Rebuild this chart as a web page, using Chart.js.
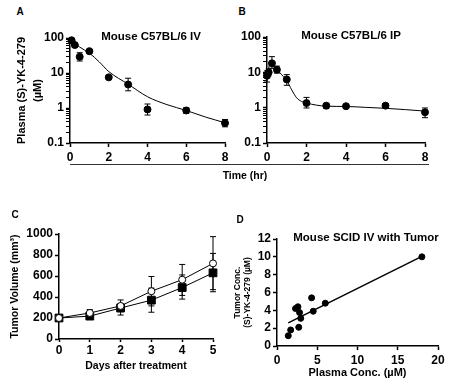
<!DOCTYPE html>
<html>
<head>
<meta charset="utf-8">
<script src="https://cdn.jsdelivr.net/npm/chart.js@4"></script>
<style>
body { margin: 0; background: #fff; width: 450px; height: 383px; position: relative; overflow: hidden;
       font-family: "Liberation Sans", Arial, sans-serif; font-weight: bold; color: #000; }
canvas { position: absolute; }
.t { position: absolute; transform: translate(-50%, -50%); white-space: nowrap; font-size: 11.5px; line-height: 1; }
.p { position: absolute; transform: translate(-50%, -50%); font-size: 10px; line-height: 1; }
.rule { position: absolute; left: 70px; top: 164px; width: 359px; border-top: 1px solid #333; }
</style>
</head>
<body>
<canvas id="cA" width="235" height="150" style="left:0;top:20px"></canvas>
<canvas id="cB" width="215" height="150" style="left:235px;top:20px"></canvas>
<canvas id="cC" width="235" height="168" style="left:0;top:215px"></canvas>
<canvas id="cD" width="220" height="168" style="left:230px;top:215px"></canvas>

<div class="p" style="left:20px;top:12px">A</div>
<div class="p" style="left:242px;top:12px">B</div>
<div class="p" style="left:15px;top:215px">C</div>
<div class="p" style="left:240px;top:220px">D</div>

<div class="t" style="left:151px;top:37px">Mouse C57BL/6 IV</div>
<div class="t" style="left:351px;top:36px">Mouse C57BL/6 IP</div>
<div class="t" style="left:366px;top:238px">Mouse SCID IV with Tumor</div>

<div class="rule"></div>
<div class="t" style="left:245px;top:175px;font-size:10.5px">Time (hr)</div>

<script>
const FONT = '"Liberation Sans", Arial, sans-serif';

// A: plasma conc after IV dose (µM)
const ivTime = [0.083, 0.25, 0.5, 1, 2, 3, 4, 6, 8];
const ivConc = [86, 63, 29, 42, 7.5, 4.7, 0.91, 0.85, 0.37];
const ivLow  = [78, 55, 22, 37, 6.8, 3.1, 0.63, 0.7, 0.29];
const ivHigh = [95, 72, 38, 47, 8.3, 7.1, 1.3, 1.02, 0.47];
const ivFitTime = [0, 0.5, 1, 1.5, 2, 3, 4, 5, 6, 7, 8];
const ivFitConc = [92, 55, 37, 21, 11, 4.8, 2.1, 1.25, 0.85, 0.55, 0.38];

// B: plasma conc after IP dose (µM)
const ipTime = [0, 0.083, 0.25, 0.5, 1, 2, 3, 4, 6, 8];
const ipConc = [8, 10, 18, 11.9, 6.3, 1.35, 1.14, 1.1, 1.14, 0.74];
const ipLow  = [5.3, 8, 13, 9.5, 4.3, 0.98, 0.94, 1.0, 1.0, 0.52];
const ipHigh = [11, 12.5, 27.8, 15, 8.6, 1.95, 1.32, 1.2, 1.3, 0.98];
const ipFitTime = [0, 0.15, 0.3, 0.5, 0.75, 1, 1.25, 1.5, 1.75, 2, 2.5, 3, 4, 5, 6, 7, 8];
const ipFitConc = [7.5, 17, 15.5, 12, 8.5, 5.8, 3.2, 1.9, 1.5, 1.35, 1.18, 1.1, 1.08, 1.02, 0.96, 0.88, 0.8];

const pkTimeTicks = [0, 2, 4, 6, 8];
const pkConcTicks = [0.1, 1, 10, 100];
const minorSteps = [2, 3, 4, 5, 6, 7, 8, 9];

// C: tumor volume (mm3)
const days = [0, 1, 2, 3, 4, 5];
const volCtrl     = [200, 248, 315, 455, 565, 720];
const volCtrlLow  = [195, 215, 260, 315, 415, 470];
const volCtrlHigh = [205, 280, 372, 595, 710, 975];
const volTrt      = [200, 218, 295, 370, 490, 630];
const volTrtLow   = [195, 192, 228, 255, 380, 450];
const volTrtHigh  = [205, 245, 335, 485, 610, 815];
const dayTicks = [0, 1, 2, 3, 4, 5];
const volTicks = [0, 200, 400, 600, 800, 1000];

// D: tumor vs plasma conc
const plasmaConc = [1.4, 1.7, 2.3, 2.6, 2.7, 2.8, 2.95, 4.3, 4.5, 6.0, 18.0];
const tumorConc  = [1.15, 1.8, 4.2, 4.4, 2.1, 3.75, 3.1, 5.4, 3.9, 4.8, 10.0];
const fitPlasma = [1.4, 18];
const fitTumor  = [2.6, 10.05];
const plasmaTicks = [0, 5, 10, 15, 20];
const tumorTicks = [0, 2, 4, 6, 8, 10, 12];

const tickFont = { family: FONT, size: 12, weight: 'bold' };
const xy = (xs, ys) => xs.map((x, i) => ({ x: x, y: ys[i] }));

// vertical error bars with caps, drawn under the markers
const errorBars = {
  id: 'errorBars',
  beforeDatasetsDraw(chart) {
    const ctx = chart.ctx, xs = chart.scales.x, ys = chart.scales.y;
    ctx.save();
    ctx.strokeStyle = '#000';
    ctx.lineWidth = 1;
    chart.data.datasets.forEach(ds => {
      if (!ds.errLow) return;
      ds.data.forEach((p, j) => {
        const x = xs.getPixelForValue(p.x);
        const lo = ys.getPixelForValue(ds.errLow[j]);
        const hi = ys.getPixelForValue(ds.errHigh[j]);
        ctx.beginPath();
        ctx.moveTo(x, lo); ctx.lineTo(x, hi);
        ctx.moveTo(x - 3, lo); ctx.lineTo(x + 3, lo);
        ctx.moveTo(x - 3, hi); ctx.lineTo(x + 3, hi);
        ctx.stroke();
      });
    });
    ctx.restore();
  }
};

function axis(min, max, tickVals, fit, title, tl, pad) {
  return {
    type: 'linear', min: min, max: max,
    border: { color: '#000', width: 1.5 },
    grid: { drawOnChartArea: false, color: '#000', tickLength: tl || 4, tickWidth: 1.5 },
    ticks: { color: '#000', font: tickFont, padding: pad == null ? 2 : pad, autoSkip: false, maxRotation: 0,
             callback: v => String(v) },
    afterBuildTicks: s => { s.ticks = tickVals.map(v => ({ value: v })); },
    afterFit: fit,
    title: title || { display: false }
  };
}

// log axis: labelled decades plus unlabelled 2..9 minor ticks
function logAxis(fit, title) {
  const all = [];
  pkConcTicks.forEach((d, i) => {
    all.push(d);
    if (i < pkConcTicks.length - 1) minorSteps.forEach(k => all.push(+(k * d).toPrecision(3)));
  });
  return {
    type: 'logarithmic', min: 0.1, max: 100,
    border: { color: '#000', width: 1.5 },
    grid: { drawOnChartArea: false, color: '#000', tickLength: 4,
            tickWidth: c => pkConcTicks.includes(c.tick.value) ? 1.5 : 1 },
    ticks: {
      color: '#000', font: tickFont, padding: 2, autoSkip: false,
      callback: v => pkConcTicks.includes(v) ? String(v) : ''
    },
    afterBuildTicks: s => { s.ticks = all.map(v => ({ value: v })); },
    afterFit: fit,
    title: title || { display: false }
  };
}

function baseOptions(padding, scales) {
  return {
    responsive: false, animation: false,
    layout: { padding: padding },
    plugins: { legend: { display: false }, tooltip: { enabled: false } },
    scales: scales
  };
}

function pkChart(id, time, conc, low, high, fitT, fitC, padding, yWidth, yTitle) {
  new Chart(document.getElementById(id), {
    type: 'scatter',
    data: {
      datasets: [
        { data: xy(time, conc), errLow: low, errHigh: high, pointRadius: 3.5,
          backgroundColor: '#000', borderColor: '#000', clip: false },
        { type: 'line', data: xy(fitT, fitC), borderColor: '#000', borderWidth: 1,
          pointRadius: 0, cubicInterpolationMode: 'monotone', clip: false }
      ]
    },
    options: baseOptions(padding, {
      x: axis(0, 8, pkTimeTicks, s => { s.height = 27; }, null, 4, 3),
      y: logAxis(s => { s.width = yWidth; }, yTitle)
    }),
    plugins: [errorBars]
  });
}

pkChart('cA', ivTime, ivConc, ivLow, ivHigh, ivFitTime, ivFitConc,
  { left: 0, top: 18, right: 10, bottom: 0 }, 70,
  { display: true, text: ['Plasma (S)-YK-4-279', '(\u00b5M)'], color: '#000',
    font: { family: FONT, size: 11, weight: 'bold', lineHeight: '16px' }, padding: { top: 14, bottom: 0 } });

pkChart('cB', ipTime, ipConc, ipLow, ipHigh, ipFitTime, ipFitConc,
  { left: 0, top: 17, right: 25, bottom: 0 }, 32, null);

// C
new Chart(document.getElementById('cC'), {
  type: 'line',
  data: {
    datasets: [
      { data: xy(days, volCtrl), errLow: volCtrlLow, errHigh: volCtrlHigh,
        pointStyle: 'circle', pointRadius: 3.5, pointBackgroundColor: '#fff',
        pointBorderColor: '#000', pointBorderWidth: 1, borderColor: '#000', borderWidth: 1, clip: false },
      { data: xy(days, volTrt), errLow: volTrtLow, errHigh: volTrtHigh,
        pointStyle: 'rect', pointRadius: 5.5, pointBackgroundColor: '#000',
        pointBorderColor: '#000', borderColor: '#000', borderWidth: 1, clip: false }
    ]
  },
  options: baseOptions({ left: 0, top: 19, right: 22, bottom: 0 }, {
    x: axis(0, 5, dayTicks, s => { s.height = 44; },
      { display: true, text: 'Days after treatment', color: '#000',
        font: { family: FONT, size: 10.5, weight: 'bold', lineHeight: '16px' }, padding: { top: 0, bottom: 9 } }, 3, 1),
    y: axis(0, 1000, volTicks, s => { s.width = 59; },
      { display: true, text: 'Tumor Volume (mm\u00b3)', color: '#000',
        font: { family: FONT, size: 10.5, weight: 'bold', lineHeight: '16px' }, padding: { top: 7, bottom: 0 } })
  }),
  plugins: [errorBars]
});

// D
new Chart(document.getElementById('cD'), {
  type: 'scatter',
  data: {
    datasets: [
      { data: xy(plasmaConc, tumorConc), pointRadius: 3, backgroundColor: '#000', borderColor: '#000', clip: false },
      { type: 'line', data: xy(fitPlasma, fitTumor), borderColor: '#000', borderWidth: 1.5, pointRadius: 0 }
    ]
  },
  options: baseOptions({ left: 0, top: 24, right: 12, bottom: 0 }, {
    x: axis(0, 20, plasmaTicks, s => { s.height = 37; },
      { display: true, text: 'Plasma Conc. (\u00b5M)', color: '#000',
        font: { family: FONT, size: 11, weight: 'bold', lineHeight: '16px' }, padding: { top: 0, bottom: 2 } }, 4, 3),
    y: axis(0, 12, tumorTicks, s => { s.width = 47; },
      { display: true, text: ['Tumor Conc.', '(S)-YK-4-279 (\u00b5M)'], color: '#000',
        font: { family: FONT, size: 8.5, weight: 'bold', lineHeight: '9.7px' }, padding: { top: 3, bottom: 0 } })
  })
});
</script>
</body>
</html>
